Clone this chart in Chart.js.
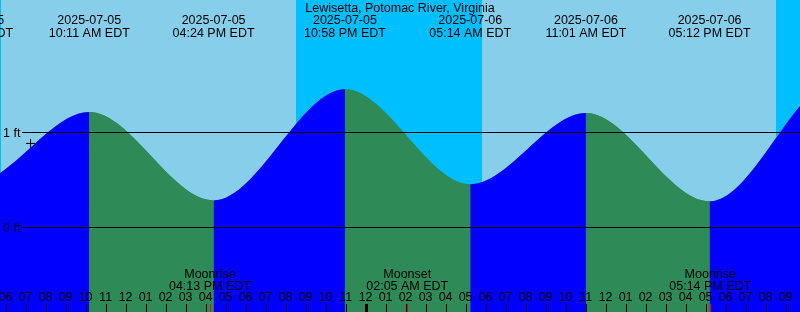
<!DOCTYPE html>
<html lang="en">
<head>
<meta charset="UTF-8">
<title>Lewisetta, Potomac River, Virginia</title>
<style>
    body {
        margin: 0;
        padding: 0;
        background: #fff;
    }

    canvas {
        display: block;
    }
</style>
</head>
<body>
<canvas id="tideChart" width="800" height="312"></canvas>

<script src="https://cdn.jsdelivr.net/npm/chart.js"></script>
<script>
    var stationName = 'Lewisetta, Potomac River, Virginia';
    var baseDate = '2025-07-05';

    // high / low tides (feet)
    var tideDates = ['2025-07-04', '2025-07-05', '2025-07-05', '2025-07-05', '2025-07-05', '2025-07-06', '2025-07-06', '2025-07-06', '2025-07-06', '2025-07-07'];
    var tideTimes = ['10:06 PM', '04:20 AM', '10:11 AM', '04:24 PM', '10:58 PM', '05:14 AM', '11:01 AM', '05:12 PM', '11:42 PM', '05:55 AM'];
    var tideHeights = [1.40, 0.46, 1.21, 0.28, 1.45, 0.45, 1.20, 0.27, 1.56, 0.45];

    var sunDates = ['2025-07-05', '2025-07-05', '2025-07-06', '2025-07-06'];
    var sunTimes = ['05:47 AM', '08:30 PM', '05:48 AM', '08:30 PM'];
    var sunKinds = ['rise', 'set', 'rise', 'set'];

    var moonDates = ['2025-07-05', '2025-07-06', '2025-07-06'];
    var moonTimes = ['04:13 PM', '02:05 AM', '05:14 PM'];
    var moonNames = ['Moonrise', 'Moonset', 'Moonrise'];

    var nowDate = '2025-07-05';
    var nowTime = '07:15 AM';
    var nowHeight = 0.88;

    var levelTicks = [0, 1];

    // hours after midnight of baseDate
    function toHours(date, time) {
        var d = date.split('-').map(Number);
        var b = baseDate.split('-').map(Number);
        var days = (Date.UTC(d[0], d[1] - 1, d[2]) - Date.UTC(b[0], b[1] - 1, b[2])) / 86400000;
        var m = time.match(/(\d+):(\d+) (AM|PM)/);
        var h = (parseInt(m[1]) % 12) + (m[3] === 'PM' ? 12 : 0) + parseInt(m[2]) / 60;
        return days * 24 + h;
    }

    var tidePoints = tideDates.map(function (d, i) {
        return { x: toHours(d, tideTimes[i]), y: tideHeights[i] };
    });

    var FONT = '12.5px "Liberation Sans", Arial, sans-serif';

    var tideDecor = {
        id: 'tideDecor',
        beforeDatasetsDraw: function (chart) {
            var ctx = chart.ctx, xs = chart.scales.x, a = chart.chartArea;
            ctx.save();
            ctx.fillStyle = '#87ceeb';
            ctx.fillRect(a.left, a.top, a.width, a.height);
            ctx.fillStyle = '#00bfff';
            var nightFrom = xs.min - 1;
            function night(h0, h1) {
                var x0 = Math.round(xs.getPixelForValue(h0));
                var x1 = Math.round(xs.getPixelForValue(h1));
                ctx.fillRect(x0, a.top, x1 - x0, a.height);
            }
            sunDates.forEach(function (d, i) {
                var h = toHours(d, sunTimes[i]);
                if (sunKinds[i] === 'rise') {
                    if (nightFrom !== null) night(nightFrom, h);
                    nightFrom = null;
                } else {
                    nightFrom = h;
                }
            });
            if (nightFrom !== null) night(nightFrom, xs.max + 1);
            ctx.restore();
        },
        afterDatasetsDraw: function (chart) {
            var ctx = chart.ctx, xs = chart.scales.x, ys = chart.scales.y, a = chart.chartArea;
            ctx.save();
            ctx.font = FONT;
            ctx.fillStyle = '#000';
            ctx.textBaseline = 'alphabetic';

            // datum lines
            levelTicks.forEach(function (v) {
                var y = Math.round(ys.getPixelForValue(v));
                ctx.fillRect(22, y, a.right - 22, 1);
                ctx.textAlign = 'left';
                ctx.fillText(v + ' ft', 3, y + 5);
            });

            ctx.textAlign = 'center';
            ctx.fillText(stationName, (a.left + a.right) / 2, 12);

            tideDates.forEach(function (d, i) {
                var x = xs.getPixelForValue(toHours(d, tideTimes[i]));
                ctx.fillText(d, x, 24);
                ctx.fillText(tideTimes[i] + ' EDT', x, 37);
            });

            // hour ticks
            for (var h = Math.ceil(xs.min) - 1; h <= Math.floor(xs.max) + 1; h++) {
                var x = xs.getPixelForValue(h);
                var hr = ((h % 24) + 24) % 24;
                var lab = (hr % 12) || 12;
                ctx.fillText((lab < 10 ? '0' : '') + lab, x, 301);
                if (hr === 0) ctx.fillRect(Math.round(x) - 1, 304, 3, 8);
                else ctx.fillRect(Math.round(x), 304, 1, 8);
            }

            moonDates.forEach(function (d, i) {
                var x = xs.getPixelForValue(toHours(d, moonTimes[i]));
                ctx.fillStyle = '#000';
                ctx.fillText(moonNames[i], x, 278);
                ctx.fillText(moonTimes[i] + ' EDT', x, 290);
                ctx.fillStyle = '#ff0000';
                ctx.fillRect(Math.round(x), 304, 1, 8);
            });
            ctx.restore();
        }
    };

    var ctx = document.getElementById('tideChart').getContext('2d');
    var tideChart = new Chart(ctx, {
        type: 'line',
        data: {
            datasets: [{
                label: 'now',
                data: [{ x: toHours(nowDate, nowTime), y: nowHeight }],
                showLine: false,
                pointStyle: 'cross',
                pointRadius: 4.5,
                borderColor: '#000',
                borderWidth: 1,
                order: 0
            }, {
                label: 'tide',
                data: tidePoints,
                borderWidth: 0,
                borderColor: 'rgba(0,0,0,0)',
                backgroundColor: '#0000ff',
                pointRadius: 0,
                fill: 'start',
                cubicInterpolationMode: 'monotone',
                segment: {
                    backgroundColor: function (c) {
                        return c.p1.parsed.y > c.p0.parsed.y ? '#0000ff' : '#2e8b57';
                    }
                },
                order: 1
            }, {
                // plain underlay so the seams between rising and falling fills don't show
                label: 'tide underlay',
                data: tidePoints,
                borderWidth: 0,
                borderColor: 'rgba(0,0,0,0)',
                backgroundColor: '#2e8b57',
                pointRadius: 0,
                fill: 'start',
                cubicInterpolationMode: 'monotone',
                order: 2
            }]
        },
        options: {
            responsive: false,
            animation: false,
            events: [],
            layout: { padding: 0, autoPadding: false },
            plugins: {
                legend: { display: false },
                tooltip: { enabled: false }
            },
            scales: {
                x: {
                    type: 'linear',
                    display: false,
                    min: 5.72,
                    max: 45.72
                },
                y: {
                    display: false,
                    min: -85 / 95,
                    max: 227 / 95
                }
            }
        },
        plugins: [tideDecor]
    });
</script>
</body>
</html>
